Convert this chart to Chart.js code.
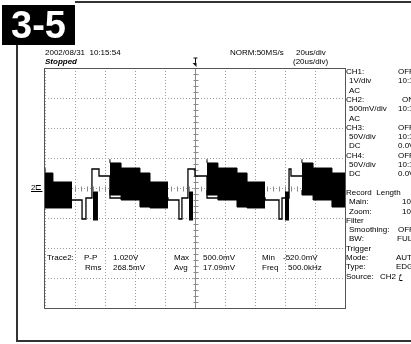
<!DOCTYPE html>
<html>
<head>
<meta charset="utf-8">
<script src="https://cdn.jsdelivr.net/npm/chart.js@4.4.0/dist/chart.umd.min.js"></script>
<style>
body { margin: 0; background: #fff; }
#wrap { position: relative; width: 411px; height: 344px; overflow: hidden; background: #fff; }
#scope { position: absolute; left: 0; top: 0; }
.t { position: absolute; font-family: "Liberation Sans", Arial, sans-serif; font-size: 8px; line-height: 8px; white-space: pre; color: #000; }
#badge { position: absolute; left: 2px; top: 5px; width: 73px; height: 40px; background: #000; color: #fff;
  font-family: "Liberation Sans", Arial, sans-serif; font-weight: bold;
  font-size: 38px; line-height: 40px; text-align: center; }
.frame { position: absolute; background: #333; }
</style>
</head>
<body>
<div id="wrap">
  <canvas id="scope" width="411" height="344"></canvas>

  <!-- outer frame -->
  <div class="frame" style="left:75px; top:1px; width:336px; height:2px;"></div>
  <div class="frame" style="left:16px; top:45px; width:2px; height:297px;"></div>
  <div class="frame" style="left:16px; top:340px; width:395px; height:2px;"></div>
  <div id="badge">3-5</div>

  <!-- header -->
  <div class="t" style="left:45px; top:49px;">2002/08/31  10:15:54</div>
  <div class="t" style="left:45px; top:58px; font-style:italic; font-weight:bold;">Stopped</div>
  <div class="t" style="left:230px; top:49px;">NORM:50MS/s</div>
  <div class="t" style="left:296px; top:49px;">20us/div</div>
  <div class="t" style="left:293px; top:58px;">(20us/div)</div>

  <!-- ground marker -->
  <div class="t" style="left:31px; top:184px; text-decoration:underline;">2⊏</div>

  <!-- measurements -->
  <div class="t" style="left:47px; top:254px;">Trace2:</div>
  <div class="t" style="left:84px; top:254px;">P-P</div>
  <div class="t" style="left:113px; top:254px;">1.020V</div>
  <div class="t" style="left:174px; top:254px;">Max</div>
  <div class="t" style="left:203px; top:254px;">500.0mV</div>
  <div class="t" style="left:262px; top:254px;">Min</div>
  <div class="t" style="left:283px; top:254px;">-520.0mV</div>
  <div class="t" style="left:85px; top:264px;">Rms</div>
  <div class="t" style="left:113px; top:264px;">268.5mV</div>
  <div class="t" style="left:174px; top:264px;">Avg</div>
  <div class="t" style="left:203px; top:264px;">17.09mV</div>
  <div class="t" style="left:262px; top:264px;">Freq</div>
  <div class="t" style="left:288px; top:264px;">500.0kHz</div>

  <!-- side panel -->
  <div class="t" style="left:346px; top:68px;">CH1:</div>   <div class="t" style="left:398px; top:68px;">OFF</div>
  <div class="t" style="left:349px; top:77px;">1V/div</div> <div class="t" style="left:398px; top:77px;">10:1</div>
  <div class="t" style="left:349px; top:87px;">AC</div>
  <div class="t" style="left:346px; top:96px;">CH2:</div>   <div class="t" style="left:402px; top:96px;">ON</div>
  <div class="t" style="left:349px; top:105px;">500mV/div</div> <div class="t" style="left:398px; top:105px;">10:1</div>
  <div class="t" style="left:349px; top:115px;">AC</div>
  <div class="t" style="left:346px; top:124px;">CH3:</div>   <div class="t" style="left:398px; top:124px;">OFF</div>
  <div class="t" style="left:349px; top:133px;">50V/div</div> <div class="t" style="left:398px; top:133px;">10:1</div>
  <div class="t" style="left:349px; top:142px;">DC</div>     <div class="t" style="left:398px; top:142px;">0.0V</div>
  <div class="t" style="left:346px; top:152px;">CH4:</div>   <div class="t" style="left:398px; top:152px;">OFF</div>
  <div class="t" style="left:349px; top:161px;">50V/div</div> <div class="t" style="left:398px; top:161px;">10:1</div>
  <div class="t" style="left:349px; top:170px;">DC</div>     <div class="t" style="left:398px; top:170px;">0.0V</div>
  <div class="t" style="left:346px; top:189px;">Record  Length</div>
  <div class="t" style="left:349px; top:198px;">Main:</div>  <div class="t" style="left:402px; top:198px;">10K</div>
  <div class="t" style="left:349px; top:208px;">Zoom:</div>  <div class="t" style="left:402px; top:208px;">10K</div>
  <div class="t" style="left:346px; top:217px;">Filter</div>
  <div class="t" style="left:349px; top:226px;">Smoothing:</div> <div class="t" style="left:398px; top:226px;">OFF</div>
  <div class="t" style="left:349px; top:235px;">BW:</div>    <div class="t" style="left:397px; top:235px;">FULL</div>
  <div class="t" style="left:346px; top:245px;">Trigger</div>
  <div class="t" style="left:346px; top:254px;">Mode:</div>  <div class="t" style="left:396px; top:254px;">AUTO</div>
  <div class="t" style="left:346px; top:263px;">Type:</div>  <div class="t" style="left:396px; top:263px;">EDGE</div>
  <div class="t" style="left:346px; top:273px;">Source:</div> <div class="t" style="left:380px; top:273px;">CH2</div>
  <div class="t" style="left:398px; top:273px; text-decoration:underline;">ƒ</div>
</div>

<script>
// 시간축 (us), 20us/div, 화면 10div
var timeMin = -100, timeMax = 100, timeStep = 20;
// 전압축 (mV), 500mV/div, 화면 8div
var voltMin = -2000, voltMax = 2000, voltStep = 500;

// 버스트 구간 (검은 띠) : 시작시각, 상단, 하단
var burst1Time = [-100, -94.7, -88, -82];
var burst1High = [333, 250, 100, 100];
var burst1Low  = [-317, -333, -333, -333];

var burst2Time = [-56.7, -49.3, -36.7, -30, -24.7, -18];
var burst2High = [480, 417, 333, 250, 100, 100];
var burst2Low  = [-33, -117, -200, -317, -333, -333];

var burst3Time = [8, 15.3, 28, 34.7, 40, 46.7];
var burst3High = [480, 417, 333, 250, 100, 100];
var burst3Low  = [-33, -117, -200, -317, -333, -333];

var burst4Time = [71.3, 78.7, 91.3, 98, 100];
var burst4High = [480, 417, 333, 250, 250];
var burst4Low  = [-33, -117, -200, -317, -317];

// 상승 직전 짧은 스파이크
var spike1Time = [-68, -64.7];
var spike2Time = [-4, -1.3];
var spike3Time = [60, 62.7];
var spikeHigh = [-67, -67];
var spikeLow  = [-533, -533];

// 가는 선 파형 (stepped)
var traceTime = [-100, -75.3, -72.7, -68.7, -64, -56.7, -18, -10.7, -8.7, -4.7, 0, 8, 46.7, 56, 58, 62.7, 64, 71.3, 100];
var traceVolt = [-167, -200, -517, -167, 317, 200, -167, -200, -517, -167, 317, 200, -167, -200, -517, -167, 317, 200, 200];

function pts(t, v) {
    return t.map(function (x, i) { return { x: x, y: v[i] }; });
}

// 상단/하단 두 데이터셋으로 띠를 채운다
function band(t, hi, lo) {
    return [
        { data: pts(t, hi), borderColor: '#000', borderWidth: 1, pointRadius: 0, stepped: 'after', fill: false },
        { data: pts(t, lo), borderColor: '#000', borderWidth: 1, pointRadius: 0, stepped: 'after', fill: '-1', backgroundColor: '#000' }
    ];
}

var datasets = [].concat(
    band(burst1Time, burst1High, burst1Low),
    band(burst2Time, burst2High, burst2Low),
    band(burst3Time, burst3High, burst3Low),
    band(burst4Time, burst4High, burst4Low),
    band(spike1Time, spikeHigh, spikeLow),
    band(spike2Time, spikeHigh, spikeLow),
    band(spike3Time, spikeHigh, spikeLow),
    [{ data: pts(traceTime, traceVolt), borderColor: '#000', borderWidth: 1.3, pointRadius: 0, stepped: 'after', fill: false }]
);

// 중심 십자선, 눈금, 트리거 마크, 테두리
var scopeMarks = {
    id: 'scopeMarks',
    beforeDatasetsDraw: function (chart) {
        var ctx = chart.ctx, a = chart.chartArea;
        var cx = Math.round(chart.scales.x.getPixelForValue(0)) + 0.5;
        var cy = Math.round(chart.scales.y.getPixelForValue(0)) + 0.5;
        var dx = (a.right - a.left) / 50, dy = (a.bottom - a.top) / 40;
        ctx.save();
        ctx.strokeStyle = '#8a8a8a';
        ctx.lineWidth = 1;
        ctx.beginPath();
        ctx.moveTo(cx, a.top); ctx.lineTo(cx, a.bottom);
        for (var i = 1; i < 40; i++) {
            var yy = Math.round(a.top + i * dy) + 0.5;
            ctx.moveTo(cx - 2, yy); ctx.lineTo(cx + 3, yy);
        }
        for (var j = 1; j < 50; j++) {
            var xx = Math.round(a.left + j * dx) + 0.5;
            ctx.moveTo(xx, cy - 2); ctx.lineTo(xx, cy + 3);
        }
        ctx.stroke();
        ctx.restore();
    },
    afterDraw: function (chart) {
        var ctx = chart.ctx, a = chart.chartArea;
        var cx = Math.round(chart.scales.x.getPixelForValue(0)) + 0.5;
        ctx.save();
        ctx.strokeStyle = '#555';
        ctx.lineWidth = 1;
        ctx.strokeRect(Math.round(a.left) - 0.5, Math.round(a.top) + 0.5, Math.round(a.right - a.left) + 1, Math.round(a.bottom - a.top));
        // 트리거 위치 마크
        ctx.strokeStyle = '#111';
        ctx.beginPath();
        ctx.moveTo(cx - 2, a.top - 10); ctx.lineTo(cx + 2, a.top - 10);
        ctx.moveTo(cx, a.top - 10); ctx.lineTo(cx, a.top - 3);
        ctx.stroke();
        ctx.fillStyle = '#111';
        ctx.beginPath();
        ctx.moveTo(cx - 3, a.top - 5); ctx.lineTo(cx + 1, a.top - 5); ctx.lineTo(cx + 1, a.top - 1);
        ctx.closePath();
        ctx.fill();
        ctx.restore();
    }
};

var canvas = document.getElementById('scope');
var scopeChart = new Chart(canvas, {
    type: 'line',
    data: { datasets: datasets },
    options: {
        responsive: false,
        animation: false,
        layout: { padding: { left: 45, top: 68, right: 66, bottom: 36 } },
        plugins: { legend: { display: false }, tooltip: { enabled: false } },
        scales: {
            x: {
                type: 'linear', min: timeMin, max: timeMax,
                ticks: { display: false, stepSize: timeStep },
                grid: { color: '#9a9a9a', drawTicks: false, tickLength: 0 },
                border: { display: false, dash: [1, 2] }
            },
            y: {
                type: 'linear', min: voltMin, max: voltMax,
                ticks: { display: false, stepSize: voltStep },
                grid: { color: '#9a9a9a', drawTicks: false, tickLength: 0 },
                border: { display: false, dash: [1, 2] }
            }
        }
    },
    plugins: [scopeMarks]
});
</script>
</body>
</html>
